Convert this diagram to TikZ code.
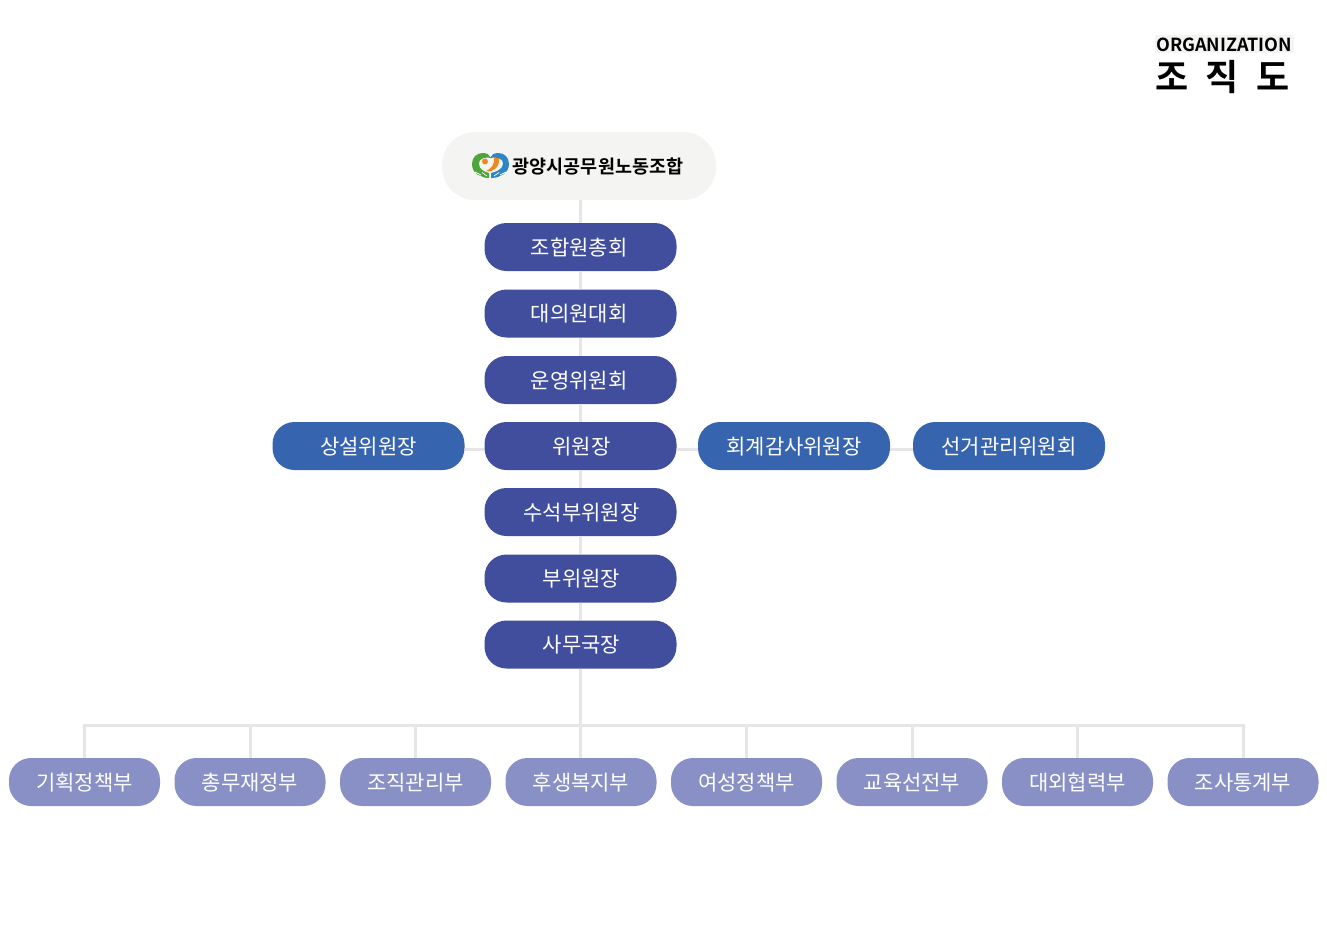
\documentclass[tikz,border=0pt]{standalone}
\usepackage{fontspec}
\setmainfont{Noto Sans CJK KR}
\newfontfamily\boldkr{Noto Sans CJK KR Bold}
\definecolor{navy}{HTML}{414D9D}
\definecolor{midblue}{HTML}{3764AE}
\definecolor{lilac}{HTML}{8990C6}
\definecolor{rule}{HTML}{E6E6E6}
\definecolor{pale}{HTML}{F4F4F2}
\definecolor{logogreen}{HTML}{4FA53A}
\definecolor{logoblue}{HTML}{2F86C6}
\definecolor{logoorange}{HTML}{EE8A1D}
\tikzset{
  pill/.style={rounded corners=22pt,minimum height=48pt,text=white,inner sep=0pt,text height=20pt,text depth=4pt,font=\fontsize{21}{21}\selectfont},
  core/.style={pill,fill=navy,minimum width=192pt},
  side/.style={pill,fill=midblue,minimum width=192pt},
  dept/.style={pill,fill=lilac,minimum width=151pt},
  wire/.style={draw=rule,line width=3pt}
}
\begin{document}
\begin{tikzpicture}[x=1pt,y=-1pt]
\useasboundingbox (0,0) rectangle (1327,943);
% nodes
\node[rounded corners=33pt,fill=pale,minimum width=274pt,minimum height=68pt,inner sep=0pt] (root) at (579,166) {};
\node[core] (a1) at (580.5,247) {\kern-2.5pt 조합원총회};
\node[core] (a2) at (580.5,313.5) {\kern-2.5pt 대의원대회};
\node[core] (a3) at (580.5,380) {\kern-2.5pt 운영위원회};
\node[core] (a4) at (580.5,446) {\kern2pt 위원장};
\node[core] (a5) at (580.5,512) {\kern2pt 수석부위원장};
\node[core] (a6) at (580.5,578.5) {\kern2pt 부위원장};
\node[core] (a7) at (580.5,644.5) {\kern2pt 사무국장};
\node[side] (s1) at (368.5,446) {상설위원장};
\node[side] (s2) at (794,446) {회계감사위원장};
\node[side] (s3) at (1009,446) {선거관리위원회};
\node[dept] (d1) at (84.5,782) {기획정책부};
\node[dept] (d2) at (250,782) {총무재정부};
\node[dept] (d3) at (415.5,782) {조직관리부};
\node[dept] (d4) at (581,782) {후생복지부};
\node[dept] (d5) at (746.5,782) {여성정책부};
\node[dept] (d6) at (912,782) {교육선전부};
\node[dept] (d7) at (1077.5,782) {대외협력부};
\node[dept] (d8) at (1243,782) {조사통계부};
\coordinate (bus) at (581,725.5);
% connectors
\foreach \p/\q in {a1/a2,a2/a3,a3/a4,a4/a5,a5/a6,a6/a7}{\draw[wire] (\p) -- (\q);}
\draw[wire] (a1.north) -- (a1.north |- root.south);
\draw[wire] ([yshift=-3pt]s1.east) -- ([yshift=-3pt]a4.west);
\draw[wire] ([yshift=-3pt]a4.east) -- ([yshift=-3pt]s2.west);
\draw[wire] ([yshift=-3pt]s2.east) -- ([yshift=-3pt]s3.west);
\draw[wire] (a7.south) -- (a7.south |- d4.north);
\draw[wire] (d1.north) -- (d1.north |- bus) -- (d8.north |- bus) -- (d8.north);
\foreach \d in {d2,d3,d5,d6,d7}{\draw[wire] (\d.north) -- (\d.north |- bus);}
% logo
\fill[logogreen] (489,178) .. controls (480,178) and (472,173) .. (472,164) .. controls (472,157) and (477,153) .. (483,153) .. controls (487,153) and (490,155) .. (491,158) .. controls (487,157) and (479,157) .. (479,164) .. controls (479,169) and (484,172) .. (489,173) -- cycle;
\fill[logoblue] (491,178) .. controls (500,178) and (509,173) .. (509,164) .. controls (509,157) and (504,153) .. (498,153) .. controls (494,153) and (491,155) .. (490,158) .. controls (494,157) and (503,157) .. (503,164) .. controls (503,169) and (496,172) .. (491,173) -- cycle;
\fill[logoorange] (485,161.5) circle (3pt);
\fill[logoorange] (499,158) .. controls (500,166) and (494,173) .. (486,171) .. controls (491,169) and (495,164) .. (494,158) -- cycle;
\draw[white,line width=0.7pt] (475,172) -- (481,175) (478,175.5) -- (483,177.5) (482,172.5) -- (487,176);
\draw[white,line width=0.7pt] (506,172) -- (500,175) (503,175.5) -- (498,177.5) (499,172.5) -- (494,176);
\node[inner sep=0pt,text=black,font=\boldkr\fontsize{18.5}{18.5}\selectfont] (brand) at (598,166.5) {광양시공무원노동조합};
% title
\fill[pale] (1155,35) rectangle (1294,53);
\node[inner sep=0pt,text=black,font=\boldkr\fontsize{18}{18}\selectfont] (t1) at (1224,44.5) {ORGANIZATION};
\node[inner sep=0pt,text=black,font=\boldkr\fontsize{36}{36}\selectfont] (t2a) at (1172,77) {조};
\node[inner sep=0pt,text=black,font=\boldkr\fontsize{36}{36}\selectfont] (t2b) at (1222.5,77) {직};
\node[inner sep=0pt,text=black,font=\boldkr\fontsize{36}{36}\selectfont] (t2c) at (1273.5,77) {도};
\end{tikzpicture}
\end{document}
